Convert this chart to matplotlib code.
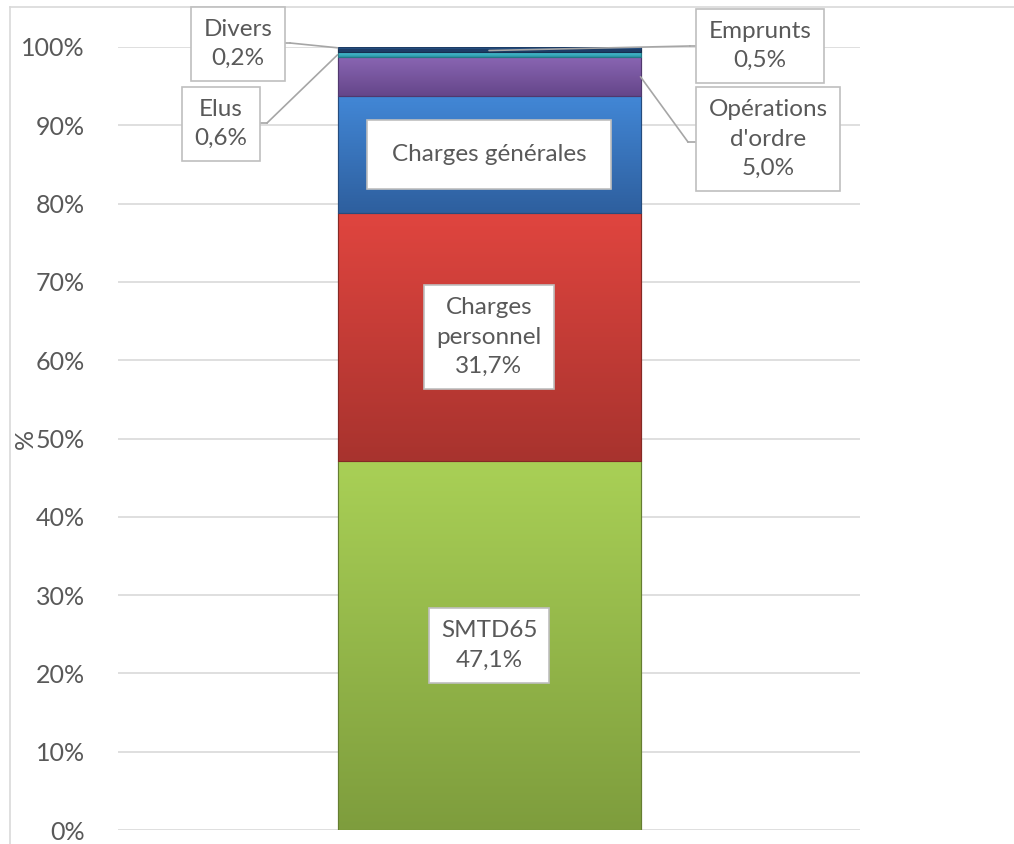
import numpy as np
import matplotlib
matplotlib.use("Agg")
import matplotlib.pyplot as plt
from matplotlib.colors import LinearSegmentedColormap, to_rgb
from matplotlib.lines import Line2D
from matplotlib.ticker import FuncFormatter

plt.rcParams['font.family'] = ['Lato', 'DejaVu Sans']

# data (bottom -> top)
categories = ["SMTD65", "Charges personnel", "Charges générales", "Opérations d'ordre",
              "Elus", "Emprunts", "Divers"]
values = [47.1, 31.7, 14.9, 5.0, 0.6, 0.5, 0.2]
labels = ["SMTD65\n47,1%", "Charges\npersonnel\n31,7%", "Charges générales",
          "Opérations\nd'ordre\n5,0%", "Elus\n0,6%", "Emprunts\n0,5%", "Divers\n0,2%"]
yticks = [0, 10, 20, 30, 40, 50, 60, 70, 80, 90, 100]

# (top colour, bottom colour)
colors = [("#A9D056", "#7E9D3D"), ("#E0453F", "#A8332E"), ("#4287D6", "#2E5F9E"),
          ("#8A66B3", "#65468A"), ("#4CC3D6", "#2A97A8"), ("#24487A", "#1C3A63"),
          ("#2E5C96", "#244C80")]

W, H = 1014, 844
fig = plt.figure(figsize=(W / 100, H / 100), dpi=100)
ax = fig.add_axes([118 / W, 14 / H, 742 / W, 783 / H])

bottoms = np.concatenate([[0], np.cumsum(values)[:-1]])
bw = 303 / 742
bars = ax.bar(0, values, bottom=bottoms, width=bw, color=[c[0] for c in colors], zorder=2)

grad = np.linspace(0, 1, 256).reshape(-1, 1)
for b, (top, bot) in zip(bars, colors):
    dark = tuple(0.8 * v for v in to_rgb(bot))
    b.set_edgecolor(dark)
    b.set_linewidth(0.8)
    cm = LinearSegmentedColormap.from_list("g", [bot, top])
    x0, y0 = b.get_x(), b.get_y()
    im = ax.imshow(grad, extent=[x0, x0 + b.get_width(), y0, y0 + b.get_height()],
                   origin='lower', aspect='auto', cmap=cm, zorder=2.5)
    im.set_clip_path(b)
    ax.add_patch(plt.Rectangle((x0, y0), b.get_width(), b.get_height(), fill=False,
                               edgecolor=dark, lw=0.8, zorder=2.6))

ax.set_xlim(-0.5, 0.5)
ax.set_ylim(0, 100)
ax.set_yticks(yticks)
ax.yaxis.set_major_formatter(FuncFormatter(lambda v, p: f"{v:.0f}%"))
ax.set_xticks([])
ax.tick_params(axis='y', length=0, pad=24, labelsize=18, labelcolor='#595959')
ax.grid(axis='y', color='#D9D9D9', lw=1.2, zorder=0)
for s in ax.spines.values():
    s.set_visible(False)
ax.set_ylabel('%', fontsize=18, color='#595959')
ax.yaxis.set_label_coords(-0.11, 0.5)

fs = 17.5
tc = '#595959'
ls = 1.5
box = dict(boxstyle='square,pad=0.5', fc='white', ec='#BFBFBF', lw=1.2)
mids = bottoms + np.array(values) / 2

# labels inside the bar
for i in [0, 1, 2]:
    bb = dict(box)
    if i == 2:
        bb['boxstyle'] = 'square,pad=1.0'
    ax.text(0, mids[i], labels[i], ha='center', va='center', fontsize=fs, color=tc,
            linespacing=ls, bbox=bb, zorder=5)

# outside labels: (index, box centre px from top-left, box edge px, elbow px, bar point x)
outside = [
    (6, (238, 44), (280, 43), (290, 43), -bw / 2),
    (4, (221, 124), (256, 123), (267, 123), -bw / 2),
    (5, (760, 46), (700, 46), (690, 46), 0),
    (3, (768, 139), (700, 142), (688, 142), bw / 2),
]
lc = '#A6A6A6'
for i, c, edge, elbow, bx in outside:
    fig.text(c[0] / W, 1 - c[1] / H, labels[i], ha='center', va='center', fontsize=fs,
             color=tc, linespacing=ls, bbox=box, zorder=6)
    ax.annotate('', xy=(bx, mids[i]), xytext=(elbow[0], H - elbow[1]),
                textcoords='figure pixels', annotation_clip=False,
                arrowprops=dict(arrowstyle='-', color=lc, lw=1.2, shrinkA=0, shrinkB=0),
                zorder=4)
    fig.add_artist(Line2D([edge[0] / W, elbow[0] / W], [1 - edge[1] / H, 1 - elbow[1] / H],
                          color=lc, lw=1.2))

# chart area border (partially visible)
fig.add_artist(Line2D([10 / W, 10 / W], [0, 1 - 7 / H], color='#D9D9D9', lw=1.2))
fig.add_artist(Line2D([10 / W, 1], [1 - 7 / H, 1 - 7 / H], color='#D9D9D9', lw=1.2))

fig.savefig('out.png', dpi=100)
